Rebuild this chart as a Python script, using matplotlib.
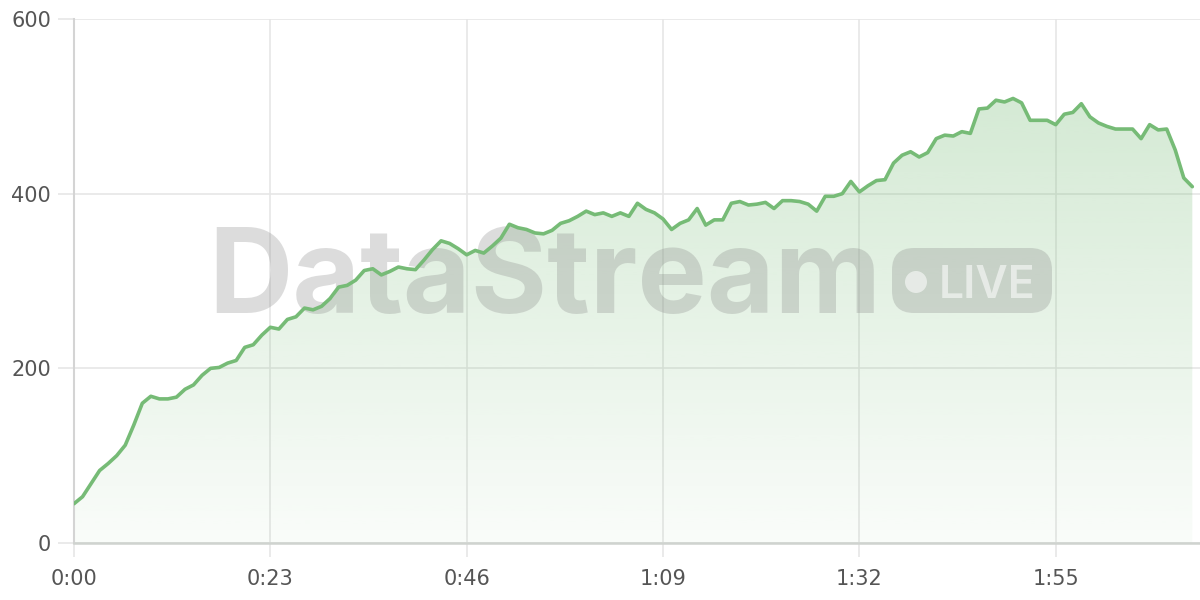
import numpy as np
import matplotlib
matplotlib.use("Agg")
import matplotlib.pyplot as plt
from matplotlib.patches import FancyBboxPatch, Circle
from matplotlib.transforms import Affine2D

# ---- data ----
values = [45, 53, 68, 83, 91, 100, 112, 135, 160, 168,
          165, 165, 167, 176, 181, 192, 200, 201, 206, 209,
          224, 227, 238, 247, 245, 256, 259, 269, 267, 271,
          280, 293, 295, 301, 312, 314, 307, 311, 316, 314,
          313, 324, 336, 346, 343, 337, 330, 335, 332, 340,
          349, 365, 361, 359, 355, 354, 358, 366, 369, 374,
          380, 376, 378, 374, 378, 374, 389, 382, 378, 371,
          359, 366, 370, 383, 364, 370, 370, 389, 391, 387,
          388, 390, 383, 392, 392, 391, 388, 380, 397, 397,
          400, 414, 402, 409, 415, 416, 435, 444, 448, 442,
          447, 463, 467, 466, 471, 469, 497, 498, 507, 505,
          509, 504, 484, 484, 484, 479, 491, 493, 503, 488,
          481, 477, 474, 474, 474, 463, 479, 473, 474, 450,
          418, 408]
seconds = list(range(len(values)))
x_ticks = [0, 23, 46, 69, 92, 115]
x_tick_labels = ["0:00", "0:23", "0:46", "1:09", "1:32", "1:55"]
y_ticks = [0, 200, 400, 600]
y_tick_labels = ["0", "200", "400", "600"]

W, H = 1200, 600
fig = plt.figure(figsize=(W / 100, H / 100), dpi=100)
ax = fig.add_axes([74 / W, 57 / H, 1126 / W, 524 / H])
ax.set_xlim(0, 131.9)
ax.set_ylim(0, 600)

# pixel transform (origin top-left, y downward) -> figure
px = Affine2D().scale(1 / W, -1 / H).translate(0, 1) + fig.transFigure

line_rgb = np.array([118, 187, 118]) / 255.0

# gradient fill
poly = ax.fill_between(seconds, values, 0, color="none", lw=0, zorder=2)
n = 256
grad = np.zeros((n, 1, 4))
grad[:, 0, :3] = line_rgb
grad[:, 0, 3] = np.linspace(0.04, 0.36, n)  # bottom -> top
im = ax.imshow(grad, origin="lower", aspect="auto",
               extent=[0, seconds[-1], 0, 600], zorder=2, interpolation="bilinear")
im.set_clip_path(poly.get_paths()[0], transform=ax.transData)

ax.plot(seconds, values, color=line_rgb, lw=2.6, zorder=5,
        solid_joinstyle="round", solid_capstyle="round")

# grid / axes styling
ax.set_xticks(x_ticks)
ax.set_xticklabels(x_tick_labels)
ax.set_yticks(y_ticks)
ax.set_yticklabels(y_tick_labels)
ax.grid(True, color="#e6e6e6", lw=1.2, zorder=0)
ax.set_axisbelow(True)
for s in ["top", "right"]:
    ax.spines[s].set_visible(False)
ax.spines["left"].set_color("#d4d4d4")
ax.spines["left"].set_linewidth(1.5)
ax.spines["bottom"].set_color("#cfd3cf")
ax.spines["bottom"].set_linewidth(1.8)
ax.tick_params(axis="y", length=11.5, width=1.2, color="#e6e6e6",
               labelsize=15, labelcolor="#555555", pad=5)
ax.tick_params(axis="x", length=10, width=1.2, color="#e6e6e6",
               labelsize=15, labelcolor="#555555", pad=9)

# watermark (inside axes so it sits below the line)
wm = dict(color="#808080", alpha=0.27, zorder=3, clip_on=False)
ax.text(208, 313, "DataStream", fontsize=84, fontweight="bold",
        family="Inter", ha="left", va="baseline", transform=px, **wm)
badge = FancyBboxPatch((892, 248), 160, 65,
                       boxstyle="round,pad=0,rounding_size=22",
                       transform=px, facecolor="#808080", alpha=0.27,
                       edgecolor="none", zorder=3, clip_on=False)
ax.add_artist(badge)
circ = Circle((916, 282), 11, transform=px, facecolor="white", alpha=0.55,
              edgecolor="none", zorder=3.5, clip_on=False)
ax.add_artist(circ)
ax.text(939, 298, "LIVE", fontsize=32, fontweight="semibold",
        family="Inter", color="white", alpha=0.55, ha="left", va="baseline",
        transform=px, zorder=3.5, clip_on=False)

fig.savefig("out.png", dpi=100)
